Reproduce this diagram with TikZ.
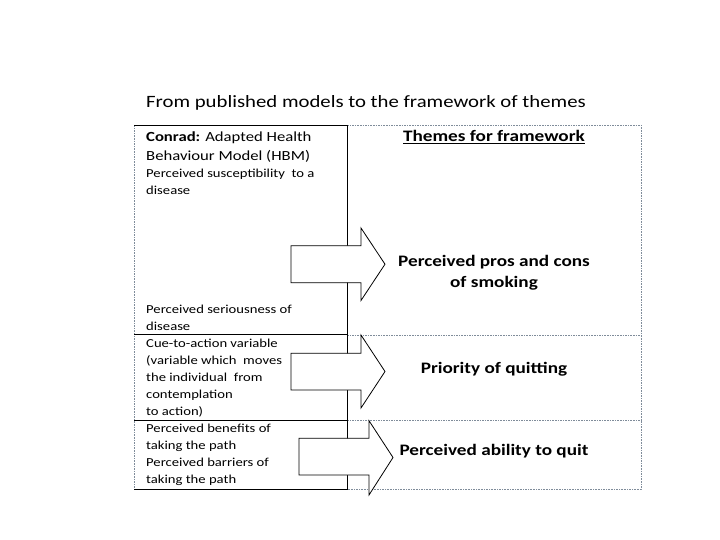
\documentclass[tikz,border=0pt]{standalone}
\usepackage{fontspec}
\setmainfont[FakeStretch=1.2]{Carlito}
\begin{document}
\begin{tikzpicture}[x=1pt,y=-1pt,
  dashline/.style={draw=dashgray,line width=0.6pt,dash pattern=on 1.6pt off 1pt},
  solidline/.style={draw=black,line width=0.8pt},
  blockarrow/.style={draw=black,fill=white,line width=0.8pt,line join=miter},
  ltext/.style={anchor=base west,inner sep=0pt,font=\fontsize{12.2}{17}\selectfont},
  lhead/.style={anchor=base west,inner sep=0pt,font=\fontsize{13.9}{19}\selectfont},
  rtext/.style={anchor=base,inner sep=0pt,font=\fontsize{16}{20}\selectfont\bfseries},
  title/.style={anchor=base west,inner sep=0pt,font=\fontsize{17.3}{22}\selectfont}]
\definecolor{dashgray}{HTML}{7F8C9A}
\useasboundingbox (0,0) rectangle (720,540);
\fill[white] (0,0) rectangle (720,540);

% title
\node[title] (title) at (146,108) {From published models to the framework of themes};

% right column (dashed)
\coordinate (rtl) at (347,125);
\coordinate (rtr) at (641,125);
\coordinate (rbr) at (641,489);
\coordinate (rbl) at (347,489);
\draw[dashline] (rtl) -- (rtr) -- (rbr) -- (rbl);
\coordinate (r1l) at (347,335); \coordinate (r1r) at (641,335);
\coordinate (r2l) at (347,420); \coordinate (r2r) at (641,420);
\draw[dashline] (r1l) -- (r1r);
\draw[dashline] (r2l) -- (r2r);

% left column
\coordinate (ltl) at (134,125);
\coordinate (lbl) at (134,489);
\draw[dashline] (ltl) -- (lbl);
\coordinate (lr) at (347,125);
\coordinate (lrb) at (347,489);
\draw[solidline] (ltl) -- (lr) -- (lrb) -- (lbl);
\coordinate (l1l) at (134,334); \coordinate (l1r) at (347,334);
\coordinate (l2l) at (134,420); \coordinate (l2r) at (347,420);
\draw[solidline] (l1l) -- (l1r);
\draw[solidline] (l2l) -- (l2r);

% left texts
\node[lhead] (h1) at (146,141.5) {\textbf{Conrad:} Adapted Health};
\node[lhead] (h2) at (146,160.5) {Behaviour Model (HBM)};
\node[ltext] (s1) at (146,177.5) {Perceived susceptibility\ \ to a};
\node[ltext] (s2) at (146,194.5) {disease};
\node[ltext] (p1) at (146,313) {Perceived seriousness of};
\node[ltext] (p2) at (146,330) {disease};
\node[ltext] (c1) at (146,347.5) {Cue-to-action variable};
\node[ltext] (c2) at (146,364.5) {(variable which\ \ moves};
\node[ltext] (c3) at (146,381.5) {the individual\ \ from};
\node[ltext] (c4) at (146,398.5) {contemplation};
\node[ltext] (c5) at (146,415.5) {to action)};
\node[ltext] (b1) at (146,432) {Perceived benefits of};
\node[ltext] (b2) at (146,449) {taking the path};
\node[ltext] (b3) at (146,466) {Perceived barriers of};
\node[ltext] (b4) at (146,483) {taking the path};

% right texts
\node[rtext] (th) at (494,141.5) {\underline{Themes for framework}};
\node[rtext] (t1a) at (494,266) {Perceived pros and cons};
\node[rtext] (t1b) at (494,287) {of smoking};
\node[rtext] (t2) at (494,373) {Priority of quitting};
\node[rtext] (t3) at (494,455.5) {Perceived ability to quit};

% block arrows
\draw[blockarrow] (291,245.7) -- (361,245.7) -- (361,228) -- (385,264.2) -- (361,300.5) -- (361,282.7) -- (291,282.7) -- cycle;
\draw[blockarrow] (291,353.3) -- (361,353.3) -- (361,335) -- (385,371.5) -- (361,408) -- (361,390) -- (291,390) -- cycle;
\draw[blockarrow] (299,438.3) -- (369,438.3) -- (369,420.7) -- (393,457.5) -- (369,495) -- (369,475) -- (299,475) -- cycle;
\end{tikzpicture}
\end{document}
